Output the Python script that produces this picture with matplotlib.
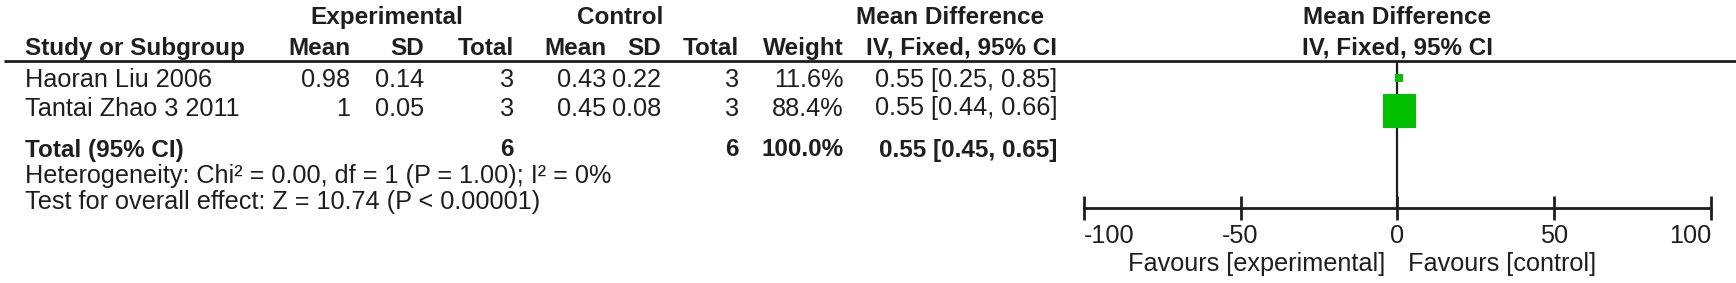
import matplotlib
matplotlib.use("Agg")
import matplotlib.pyplot as plt

# donnees
studies = ["Haoran Liu 2006", "Tantai Zhao 3 2011"]
exp_mean = [0.98, 1]
exp_sd = [0.14, 0.05]
exp_n = [3, 3]
ctl_mean = [0.43, 0.45]
ctl_sd = [0.22, 0.08]
ctl_n = [3, 3]
weight = [11.6, 88.4]
md = [0.55, 0.55]
ci_lo = [0.25, 0.44]
ci_hi = [0.85, 0.66]

total_md = 0.55
total_lo = 0.45
total_hi = 0.65
heterogeneity = "Heterogeneity: Chi\u00b2 = 0.00, df = 1 (P = 1.00); I\u00b2 = 0%"
overall = "Test for overall effect: Z = 10.74 (P < 0.00001)"

ticks = [-100, -50, 0, 50, 100]
fav_left = "Favours [experimental]"
fav_right = "Favours [control]"

W, H = 1736, 283
plt.rcParams["font.family"] = ["Liberation Sans", "DejaVu Sans"]
FS = 18.2      # texte normal
FSB = 17.5     # texte gras
TXT = "#1e1e1e"
GREEN = "#00c000"

fig = plt.figure(figsize=(W / 100, H / 100), dpi=100)
ax = fig.add_axes([0, 0, 1, 1])
ax.set_xlim(0, W)
ax.set_ylim(H, 0)
ax.axis("off")

# colonnes (bord droit) et lignes (ligne de base)
col_right = [350, 424, 514, 606, 661, 739, 843.6, 1057.5]
x_study = 25
y_group, y_head, y_rule = 24, 55, 60.5
y_rows = [87, 115.5]
y_total, y_het, y_test = 156.5, 183, 209.5

def t(x, y, s, ha="right", bold=False):
    ax.text(x, y, s, ha=ha, va="baseline", fontsize=FSB if bold else FS,
            color=TXT, fontweight="bold" if bold else "normal")

# entetes
t(387, y_group, "Experimental", ha="center", bold=True)
t(620, y_group, "Control", ha="center", bold=True)
t(950, y_group, "Mean Difference", ha="center", bold=True)
t(1397, y_group, "Mean Difference", ha="center", bold=True)
t(x_study, y_head, "Study or Subgroup", ha="left", bold=True)
heads = ["Mean", "SD", "Total", "Mean", "SD", "Total", "Weight", "IV, Fixed, 95% CI"]
for x, h in zip(col_right, heads):
    t(x, y_head, h, bold=True)
t(1397, y_head, "IV, Fixed, 95% CI", ha="center", bold=True)
ax.hlines(y_rule, 4, W, color=TXT, lw=2)

# lignes des etudes
for i, name in enumerate(studies):
    y = y_rows[i]
    vals = [f"{exp_mean[i]:g}", f"{exp_sd[i]:g}", str(exp_n[i]),
            f"{ctl_mean[i]:g}", f"{ctl_sd[i]:g}", str(ctl_n[i]),
            f"{weight[i]:.1f}%",
            f"{md[i]:.2f} [{ci_lo[i]:.2f}, {ci_hi[i]:.2f}]"]
    t(x_study, y, name, ha="left")
    for x, v in zip(col_right, vals):
        t(x, y, v)

# total
t(x_study, y_total, "Total (95% CI)", ha="left", bold=True)
t(col_right[2], y_total, str(sum(exp_n)), bold=True)
t(col_right[5], y_total, str(sum(ctl_n)), bold=True)
t(col_right[6], y_total, f"{sum(weight):.1f}%", bold=True)
t(col_right[7], y_total, f"{total_md:.2f} [{total_lo:.2f}, {total_hi:.2f}]", bold=True)
t(x_study, y_het, heterogeneity, ha="left")
t(x_study, y_test, overall, ha="left")

# forest plot
x0, x1 = 1083.7, 1711
y_axis = 208
fx = fig.add_axes([x0 / W, 0, (x1 - x0) / W, 1])
fx.set_xlim(ticks[0], ticks[-1])
fx.set_ylim(H, 0)
fx.patch.set_visible(False)
for s in ["top", "left", "right"]:
    fx.spines[s].set_visible(False)
fx.spines["bottom"].set_position(("data", y_axis))
fx.spines["bottom"].set_linewidth(2)
fx.spines["bottom"].set_color(TXT)
fx.set_yticks([])
fx.set_xticks(ticks)
fx.set_xticklabels([f"{v:g}" for v in ticks])
fx.tick_params(axis="x", direction="inout", length=17, width=2, color=TXT,
               labelsize=FS, labelcolor=TXT, pad=3)
labs = fx.get_xticklabels()
labs[0].set_ha("left")
labs[-1].set_ha("right")

fx.vlines(0, y_rule, y_axis, color=TXT, lw=1.6)
fx.hlines([78, 111], ci_lo, ci_hi, color=TXT, lw=1.5)
sizes = [(1.64 * w ** 0.67 * 0.72) ** 2 for w in weight]
fx.scatter(md, [78, 111], s=sizes, marker="s", color=GREEN, zorder=3, linewidths=0)

fx.text(-4, 270.5, fav_left, ha="right", va="baseline", fontsize=FS, color=TXT)
fx.text(3.5, 270.5, fav_right, ha="left", va="baseline", fontsize=FS, color=TXT)

fig.savefig("out.png", dpi=100)
